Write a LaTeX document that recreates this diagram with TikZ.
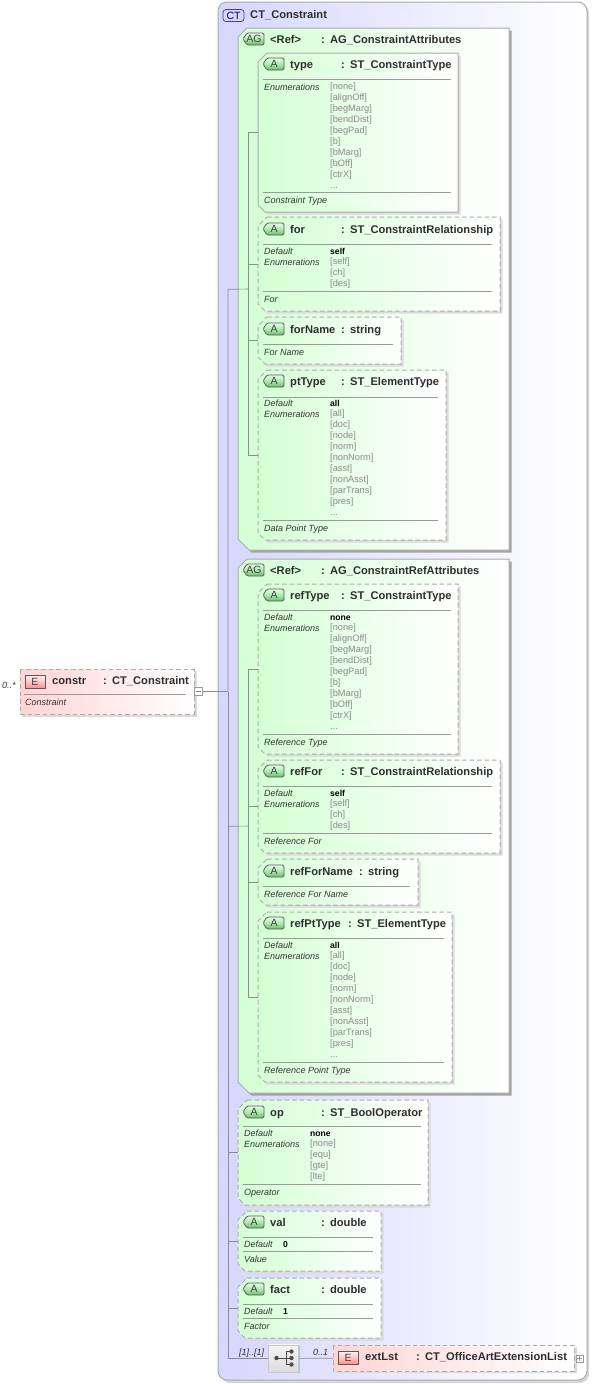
\documentclass[tikz,border=0pt]{standalone}
\usepackage{fontspec}
\setmainfont{Liberation Sans}
\definecolor{ctTint}{HTML}{D6D6FF}
\definecolor{attrTint}{HTML}{D4FFD4}
\definecolor{elemTint}{HTML}{FFD4D4}
\definecolor{edgeGrey}{HTML}{ABABAB}
\definecolor{wireGrey}{HTML}{8C8C8C}
\definecolor{ruleGrey}{HTML}{9A9A9A}
\definecolor{enumGrey}{HTML}{8A8A8A}
\definecolor{headInk}{HTML}{2E2E2E}
\definecolor{badgeTop}{HTML}{E6FBE6}
\definecolor{badgeMid}{HTML}{ACE8AC}
\definecolor{badgeLow}{HTML}{6CBC6C}
\tikzset{
  solidBox/.style={draw=edgeGrey, line width=1pt, left color=attrTint, right color=white},
  dashBox/.style={draw=edgeGrey, line width=1pt, dash pattern=on 4.5pt off 3pt, left color=attrTint, right color=white},
  elemBox/.style={draw=edgeGrey, line width=1pt, dash pattern=on 4.5pt off 3pt, left color=elemTint, right color=white},
  boxShadow/.style={fill=black!14},
  groupShadow/.style={fill=black!36},
  wire/.style={draw=wireGrey, line width=0.6pt},
  ruleLine/.style={draw=ruleGrey, line width=0.7pt},
  headText/.style={anchor=base west, inner sep=0pt, text=headInk, font=\fontsize{11.15}{13}\selectfont\bfseries},
  noteText/.style={anchor=base west, inner sep=0pt, text=black!80, font=\fontsize{9}{11}\selectfont\itshape},
  defText/.style={anchor=base west, inner sep=0pt, text=black, font=\fontsize{8.6}{11}\selectfont\bfseries},
  enumText/.style={anchor=base west, inner sep=0pt, text=enumGrey, font=\fontsize{9.25}{11}\selectfont},
  badgeText/.style={inner sep=0pt, text=black!75, font=\fontsize{10.5}{12}\selectfont},
  badgeAttr/.style={draw=black!65, line width=0.8pt, top color=badgeTop, bottom color=badgeLow, middle color=badgeMid},
  badgeElem/.style={draw=black!65, line width=0.8pt, top color=red!5, bottom color=red!45, middle color=red!22},
  badgeType/.style={draw=blue!45!black!75, line width=0.8pt, fill=ctTint, rounded corners=3pt},
  toggleBox/.style={draw=black!40, line width=0.5pt, fill=white, inner sep=0pt, minimum width=8pt, minimum height=8pt},
  seqBox/.style={draw=black!22, line width=0.6pt, top color=black!4, bottom color=black!14, inner sep=0pt, minimum width=30pt, minimum height=27pt},
}
\begin{document}
\begin{tikzpicture}[x=1pt, y=-1pt]
% page size of the reference
\useasboundingbox (0,0) rectangle (592,1384);
% box outline with cut corners on the left
\def\cutPath#1#2#3#4#5{({#1+9},#2) -- (#3,#2) -- (#3,#4) -- ({#1+#5},#4) -- (#1,{#4-#5}) -- (#1,{#2+9}) -- cycle}
% id, x0, y0, x1, y1, look, shadow, lower cut
\def\cutBox#1#2#3#4#5#6#7#8{%
  \fill[#7, shift={(2.5,2.5)}] \cutPath{#2}{#3}{#4}{#5}{#8};
  \path[#6] \cutPath{#2}{#3}{#4}{#5}{#8};
  \node[inner sep=0pt, minimum width={#4-#2}, minimum height={#5-#3}, anchor=north west] (#1) at (#2,#3) {};
}
\def\attrBox#1#2#3#4#5#6{\cutBox{#1}{#2}{#3}{#4}{#5}{#6}{boxShadow}{7}}
% id, x0, baseline, badge style, badge text, name, colon x, type
\def\boxHead#1#2#3#4#5#6#7#8{%
  \path[#4, rounded corners=1.5pt] ({#2+9},{#3-10}) -- ({#2+26},{#3-10}) -- ({#2+26},{#3+2}) -- ({#2+9},{#3+2}) -- ({#2+5},{#3-4}) -- cycle;
  \node[badgeText] (#1-badge) at ({#2+16},{#3-4}) {#5};
  \node[headText] (#1-name) at ({#2+32},#3) {#6};
  \node[headText] (#1-type) at (#7,#3) {:\hspace{5.2pt}#8};
}
% id, x0, baseline, name, colon x, type
\def\elemHead#1#2#3#4#5#6{%
  \path[badgeElem] ({#2+5},{#3-9}) rectangle ({#2+25},{#3+4});
  \node[badgeText] (#1-badge) at ({#2+15},{#3-2.5}) {E};
  \node[headText] (#1-name) at ({#2+32},#3) {#4};
  \node[headText] (#1-type) at (#5,#3) {:\hspace{5.2pt}#6};
}
% id, x, baseline, enumeration values
\def\enumRows#1#2#3#4{%
  \foreach \enumVal [count=\enumIdx from 0] in {#4}
    \node[enumText] (#1-enum\enumIdx) at (#2,{#3-0.5+\enumIdx*10.95}) {[\enumVal]};
}
\def\boxRule#1#2#3{\draw[ruleLine] (#1,#3) -- (#2,#3);}
\def\noteAt#1#2#3#4{\node[noteText] (#1) at (#2,#3) {#4};}

% Outer complex type
\fill[black!16, rounded corners=9pt] (221,4) rectangle (589,1383);
\path[draw=edgeGrey, line width=1pt, left color=ctTint, right color=white, rounded corners=9pt] (218,2) rectangle (587,1380);
\node[badgeType, minimum width=21pt, minimum height=12pt, inner sep=0pt, text=blue!35!black, font=\fontsize{10.5}{12}\selectfont] (ctBadge) at (233.5,15.5) {CT};
\node[headText] (ctName) at (250,18) {CT\_Constraint};

% Root element
\fill[boxShadow] (22,671) rectangle (196.5,716.5);
\path[elemBox] (20,669) rectangle (194,714);
\node[inner sep=0pt, minimum width=174pt, minimum height=45pt, anchor=north west] (constr) at (20,669) {};
\elemHead{constr}{20}{684}{constr}{103}{CT\_Constraint}
\boxRule{24}{186}{694}
\noteAt{constrNote}{25}{705}{Constraint}
\noteAt{constrOccurs}{2}{688}{0..*}
\node[toggleBox] (constrToggle) at (198.5,691.5) {};
\draw[black!50, line width=0.5pt] (196,691.5) -- (201,691.5);

% First attribute group
\cutBox{groupAttrs}{238}{28}{509}{550}{solidBox}{groupShadow}{11}
\boxHead{groupAttrs}{238}{43}{badgeAttr}{AG}{<Ref>}{321}{AG\_ConstraintAttributes}

\attrBox{typeBox}{258}{53}{458}{212}{solidBox}
\boxHead{typeBox}{258}{68}{badgeAttr}{A}{type}{341}{ST\_ConstraintType}
\boxRule{263}{451}{79}
\noteAt{typeEnumKey}{264}{90}{Enumerations}
\enumRows{typeBox}{330}{90}{none,alignOff,begMarg,bendDist,begPad,b,bMarg,bOff,ctrX}
\node[enumText] (typeMore) at (330,188) {...};
\boxRule{263}{451}{192}
\noteAt{typeNote}{264}{203}{Constraint Type}

\attrBox{forBox}{258}{217}{500}{311}{dashBox}
\boxHead{forBox}{258}{233}{badgeAttr}{A}{for}{341}{ST\_ConstraintRelationship}
\boxRule{263}{492}{244}
\noteAt{forDefKey}{264}{254}{Default}
\node[defText] (forDef) at (330,254) {self};
\noteAt{forEnumKey}{264}{265}{Enumerations}
\enumRows{forBox}{330}{265}{self,ch,des}
\boxRule{263}{492}{291}
\noteAt{forNote}{264}{302}{For}

\attrBox{forNameBox}{258}{317}{401}{364}{dashBox}
\boxHead{forNameBox}{258}{333}{badgeAttr}{A}{forName}{341}{string}
\boxRule{263}{393}{344}
\noteAt{forNameNote}{264}{355}{For Name}

\attrBox{ptTypeBox}{258}{370}{446}{540}{dashBox}
\boxHead{ptTypeBox}{258}{385}{badgeAttr}{A}{ptType}{341}{ST\_ElementType}
\boxRule{263}{438}{397}
\noteAt{ptDefKey}{264}{406}{Default}
\node[defText] (ptDef) at (330,406) {all};
\noteAt{ptEnumKey}{264}{417}{Enumerations}
\enumRows{ptTypeBox}{330}{417}{all,doc,node,norm,nonNorm,asst,nonAsst,parTrans,pres}
\node[enumText] (ptMore) at (330,515) {...};
\boxRule{263}{438}{520}
\noteAt{ptNote}{264}{531}{Data Point Type}

% Second attribute group
\cutBox{groupRefs}{238}{559}{509}{1093}{solidBox}{groupShadow}{11}
\boxHead{groupRefs}{238}{574}{badgeAttr}{AG}{<Ref>}{321}{AG\_ConstraintRefAttributes}

\attrBox{refTypeBox}{258}{584}{458}{754}{dashBox}
\boxHead{refTypeBox}{258}{599}{badgeAttr}{A}{refType}{341}{ST\_ConstraintType}
\boxRule{263}{451}{610}
\noteAt{refTypeDefKey}{264}{620}{Default}
\node[defText] (refTypeDef) at (330,620) {none};
\noteAt{refTypeEnumKey}{264}{631}{Enumerations}
\enumRows{refTypeBox}{330}{631}{none,alignOff,begMarg,bendDist,begPad,b,bMarg,bOff,ctrX}
\node[enumText] (refTypeMore) at (330,729) {...};
\boxRule{263}{451}{734}
\noteAt{refTypeNote}{264}{745}{Reference Type}

\attrBox{refForBox}{258}{760}{500}{853}{dashBox}
\boxHead{refForBox}{258}{775}{badgeAttr}{A}{refFor}{341}{ST\_ConstraintRelationship}
\boxRule{263}{492}{786}
\noteAt{refForDefKey}{264}{796}{Default}
\node[defText] (refForDef) at (330,796) {self};
\noteAt{refForEnumKey}{264}{807}{Enumerations}
\enumRows{refForBox}{330}{807}{self,ch,des}
\boxRule{263}{492}{833}
\noteAt{refForNote}{264}{844}{Reference For}

\attrBox{refForNameBox}{258}{859}{418}{905}{dashBox}
\boxHead{refForNameBox}{258}{875}{badgeAttr}{A}{refForName}{359}{string}
\boxRule{263}{410}{886}
\noteAt{refForNameNote}{264}{897}{Reference For Name}

\attrBox{refPtTypeBox}{258}{912}{452}{1082}{dashBox}
\boxHead{refPtTypeBox}{258}{927}{badgeAttr}{A}{refPtType}{348}{ST\_ElementType}
\boxRule{263}{444}{938}
\noteAt{refPtDefKey}{264}{948}{Default}
\node[defText] (refPtDef) at (330,948) {all};
\noteAt{refPtEnumKey}{264}{959}{Enumerations}
\enumRows{refPtTypeBox}{330}{959}{all,doc,node,norm,nonNorm,asst,nonAsst,parTrans,pres}
\node[enumText] (refPtMore) at (330,1057) {...};
\boxRule{263}{444}{1062}
\noteAt{refPtNote}{264}{1073}{Reference Point Type}

% Plain attributes
\attrBox{opBox}{238}{1100}{428}{1205}{dashBox}
\boxHead{opBox}{238}{1116}{badgeAttr}{A}{op}{321}{ST\_BoolOperator}
\boxRule{243}{421}{1126}
\noteAt{opDefKey}{244}{1136}{Default}
\node[defText] (opDef) at (310,1136) {none};
\noteAt{opEnumKey}{244}{1147}{Enumerations}
\enumRows{opBox}{310}{1147}{none,equ,gte,lte}
\boxRule{243}{421}{1184}
\noteAt{opNote}{244}{1195}{Operator}

\attrBox{valBox}{238}{1211}{381}{1271}{dashBox}
\boxHead{valBox}{238}{1226}{badgeAttr}{A}{val}{321}{double}
\boxRule{243}{373}{1237}
\noteAt{valDefKey}{244}{1247}{Default}
\node[defText] (valDef) at (283,1247) {0};
\boxRule{243}{373}{1251}
\noteAt{valNote}{244}{1262}{Value}

\attrBox{factBox}{238}{1278}{381}{1338}{dashBox}
\boxHead{factBox}{238}{1293}{badgeAttr}{A}{fact}{321}{double}
\boxRule{243}{373}{1304}
\noteAt{factDefKey}{244}{1314}{Default}
\node[defText] (factDef) at (283,1314) {1};
\boxRule{243}{373}{1318}
\noteAt{factNote}{244}{1329}{Factor}

% Sequence and extension list
\fill[black!25] (270,1346) rectangle (300,1373);
\node[seqBox, anchor=north west] (seqNode) at (268,1344.5) {};
\draw[black!70, line width=0.7pt] (276.5,1358) -- (286,1358) (291.5,1351.5) -- (286,1351.5) -- (286,1364.5) -- (291.5,1364.5) (286,1358) -- (291.5,1358);
\fill[black!70] (276.5,1358) circle (2.2pt) (291.5,1351.5) circle (2.2pt) (291.5,1358) circle (2.2pt) (291.5,1364.5) circle (2.2pt);
\noteAt{seqOccurs}{239}{1355}{[1]..[1]}
\noteAt{extOccurs}{313}{1355}{0..1}

\fill[boxShadow] (335,1347) rectangle (576.5,1373);
\path[elemBox] (333,1345) rectangle (574,1371);
\node[inner sep=0pt, minimum width=241pt, minimum height=26pt, anchor=north west] (extLst) at (333,1345) {};
\elemHead{extLst}{333}{1360}{extLst}{416}{CT\_OfficeArtExtensionList}
\node[toggleBox, minimum width=7pt, minimum height=7pt] (extToggle) at (579.5,1358.5) {};
\draw[black!40, line width=0.5pt] (577,1358.5) -- (582,1358.5) (579.5,1356) -- (579.5,1361);

% Connectors
\coordinate (ctFork) at (228,691.5);
\coordinate (attrsFork) at (248,289);
\coordinate (refsFork) at (248,826);
\draw[wire] (constrToggle.east) -- (ctFork);
\draw[wire] (attrsFork) -- (groupAttrs.west) -| (ctFork);
\draw[wire] (refsFork) -- (groupRefs.west) -- (groupRefs.west -| ctFork);
\draw[wire] (seqNode.west) -| (ctFork);
\foreach \leaf in {opBox,valBox,factBox}
  \draw[wire] (\leaf.west) -- (\leaf.west -| ctFork);
\draw[wire] (seqNode.east) -- (extLst.west);
\draw[wire] (typeBox.west) -| (attrsFork);
\draw[wire] (ptTypeBox.west) -| (attrsFork);
\foreach \leaf in {forBox,forNameBox}
  \draw[wire] (\leaf.west) -- (\leaf.west -| attrsFork);
\draw[wire] (refTypeBox.west) -| (refsFork);
\draw[wire] (refPtTypeBox.west) -| (refsFork);
\foreach \leaf in {refForBox,refForNameBox}
  \draw[wire] (\leaf.west) -- (\leaf.west -| refsFork);
\end{tikzpicture}
\end{document}
